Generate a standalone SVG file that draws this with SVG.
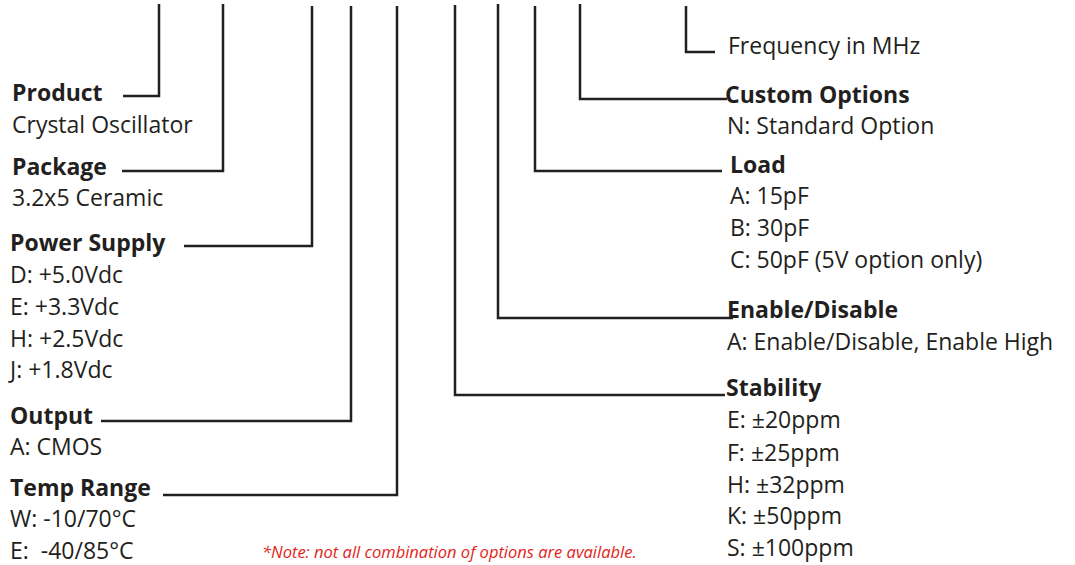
<svg xmlns="http://www.w3.org/2000/svg" width="1075" height="565" viewBox="0 0 1075 565">
<style>
text{font-family:"Open Sans","Liberation Sans",sans-serif;font-size:23px;fill:#231f20}
.b{font-weight:bold}
.note{font-style:italic;font-size:16.5px;fill:#e2231a}
.c{fill:none;stroke:#231f20;stroke-width:2.5;stroke-linecap:butt;stroke-linejoin:miter}
</style>
<rect width="1075" height="565" fill="#fff"/>
<g id="connectors">
<path class="c" d="M159 4V96H123"/>
<path class="c" d="M223 4V171H122"/>
<path class="c" d="M312 6V246H184"/>
<path class="c" d="M351 6V421H101"/>
<path class="c" d="M397 6V495H163"/>
<path class="c" d="M455 5V395H725"/>
<path class="c" d="M498 4V318H733"/>
<path class="c" d="M535 6V171H722"/>
<path class="c" d="M580 4V99H727"/>
<path class="c" d="M686 6V52H715"/>
</g>
<g id="product"><text class="b" x="12" y="101">Product</text><text x="12" y="133">Crystal Oscillator</text></g>
<g id="package"><text class="b" x="12" y="175">Package</text><text x="12" y="206">3.2x5 Ceramic</text></g>
<g id="power-supply"><text class="b" x="10" y="251">Power Supply</text><text x="10" y="283">D: +5.0Vdc</text><text x="10" y="315">E: +3.3Vdc</text><text x="10" y="347">H: +2.5Vdc</text><text x="10" y="378">J: +1.8Vdc</text></g>
<g id="output"><text class="b" x="10" y="424">Output</text><text x="10" y="455">A: CMOS</text></g>
<g id="temp-range"><text class="b" x="10" y="496">Temp Range</text><text x="10" y="527">W: -10/70°C</text><text x="10" y="559" xml:space="preserve">E:  -40/85°C</text></g>
<g id="frequency"><text x="728" y="54">Frequency in MHz</text></g>
<g id="custom-options"><text class="b" x="725" y="103">Custom Options</text><text x="727" y="134">N: Standard Option</text></g>
<g id="load"><text class="b" x="730" y="173">Load</text><text x="730" y="204">A: 15pF</text><text x="730" y="236">B: 30pF</text><text x="730" y="268">C: 50pF (5V option only)</text></g>
<g id="enable-disable"><text class="b" x="727" y="318">Enable/Disable</text><text x="727" y="350">A: Enable/Disable, Enable High</text></g>
<g id="stability"><text class="b" x="726" y="396">Stability</text><text x="727" y="428">E: ±20ppm</text><text x="727" y="461">F: ±25ppm</text><text x="727" y="493">H: ±32ppm</text><text x="727" y="524">K: ±50ppm</text><text x="727" y="556">S: ±100ppm</text></g>
<g id="note"><text class="note" x="262" y="558">*Note: not all combination of options are available.</text></g>
</svg>
